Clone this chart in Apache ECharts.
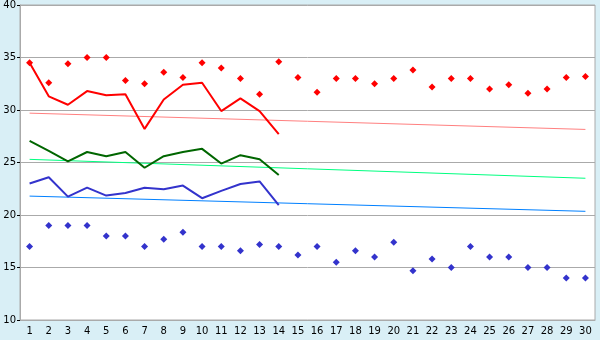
<!DOCTYPE html>
<html><head><meta charset="utf-8">
<script src="https://cdn.jsdelivr.net/npm/echarts@6/dist/echarts.min.js"></script>
<style>html,body{margin:0;padding:0;background:#d9eff6;}#c{width:600px;height:340px;}</style>
</head><body><div id="c"></div>
<script>
var days = ['1','2','3','4','5','6','7','8','9','10','11','12','13','14','15','16','17','18','19','20','21','22','23','24','25','26','27','28','29','30'];
var redPoints = [34.5,32.6,34.4,35.0,35.0,32.8,32.5,33.6,33.1,34.5,34.0,33.0,31.5,34.6,33.1,31.7,33.0,33.0,32.5,33.0,33.8,32.2,33.0,33.0,32.0,32.4,31.6,32.0,33.1,33.2];
var bluePoints = [17.0,19.0,19.0,19.0,18.0,18.0,17.0,17.7,18.35,17.0,17.0,16.6,17.2,17.0,16.2,17.0,15.5,16.6,16.0,17.4,14.7,15.8,15.0,17.0,16.0,16.0,15.0,15.0,14.0,14.0];
var redLine = [34.5,31.3,30.5,31.8,31.4,31.5,28.2,31.0,32.4,32.6,29.9,31.1,29.9,27.7];
var greenLine = [27.05,26.1,25.1,26.0,25.6,26.0,24.5,25.6,26.0,26.3,24.9,25.7,25.3,23.8];
var blueLine = [23.0,23.6,21.75,22.6,21.85,22.1,22.6,22.45,22.8,21.6,22.3,22.95,23.2,20.95];
var redTrend = [29.7,28.15];
var greenTrend = [25.3,23.5];
var blueTrend = [21.8,20.35];
var yTicks = [10,15,20,25,30,35,40];

function trend(v){ return [[days[0], v[0]], [days[days.length-1], v[1]]]; }
var font = 'DejaVu Sans';
var chart = echarts.init(document.getElementById('c'));
chart.setOption({
  animation:false,
  backgroundColor:'#d9eff6',
  grid:{left:20,right:5,top:5,bottom:20,show:true,backgroundColor:'#ffffff',borderColor:'#aaaaaa',borderWidth:1},
  xAxis:{type:'category',data:days,boundaryGap:true,
    axisLine:{lineStyle:{color:'#aaaaaa'}},
    axisTick:{alignWithLabel:true,length:4,lineStyle:{color:'#000'}},
    axisLabel:{color:'#000',fontFamily:font,fontSize:10,margin:6,interval:0},
    splitLine:{show:false}},
  yAxis:{type:'value',min:yTicks[0],max:yTicks[yTicks.length-1],interval:5,
    axisLine:{show:true,lineStyle:{color:'#aaaaaa'}},
    axisTick:{show:true,length:3,lineStyle:{color:'#000'}},
    axisLabel:{color:'#000',fontFamily:font,fontSize:10,margin:4},
    splitLine:{lineStyle:{color:'#aaaaaa'}}},
  series:[
    {type:'line',data:trend(redTrend),symbol:'none',lineStyle:{color:'#ff8080',width:1},z:1},
    {type:'line',data:trend(greenTrend),symbol:'none',lineStyle:{color:'#00ff80',width:1},z:1},
    {type:'line',data:trend(blueTrend),symbol:'none',lineStyle:{color:'#0080ff',width:1},z:1},
    {type:'line',data:redLine,symbol:'none',lineStyle:{color:'#ff0000',width:2},z:2},
    {type:'line',data:greenLine,symbol:'none',lineStyle:{color:'#006600',width:2},z:2},
    {type:'line',data:blueLine,symbol:'none',lineStyle:{color:'#3333cc',width:2},z:2},
    {type:'scatter',data:redPoints,symbol:'diamond',symbolSize:7,itemStyle:{color:'#ff0000',opacity:1},z:3},
    {type:'scatter',data:bluePoints,symbol:'diamond',symbolSize:7,itemStyle:{color:'#3333cc',opacity:1},z:3}
  ]
});
</script></body></html>
